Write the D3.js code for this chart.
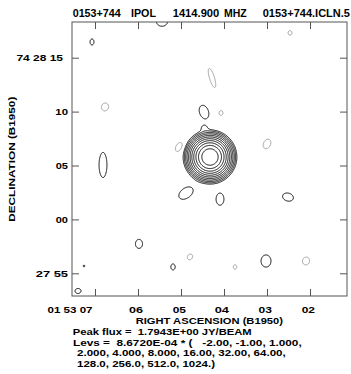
<!DOCTYPE html>
<html>
<head>
<meta charset="utf-8">
<script src="https://cdn.jsdelivr.net/npm/d3@7"></script>
<style>
  body { margin: 0; background: #fff; }
  text { font-family: "Liberation Sans", Arial, sans-serif; font-weight: bold; fill: #000; white-space: pre; }
</style>
</head>
<body>
<div id="chart"></div>
<script>
// header / axis texts
const titleParts = ['0153+744', 'IPOL', '1414.900', 'MHZ', '0153+744.ICLN.5']
const raTicks = [7, 6, 5, 4, 3, 2]                 // RA seconds of 01h53m
const raTickLabels = ['01 53 07', '06', '05', '04', '03', '02']
const decTicks = [75, 70, 65, 60, 55]              // Dec arcsec past 74d27m
const decTickLabels = ['74 28 15', '10', '05', '00', '27 55']
const peakFlux = 1.7943
const baseLevel = 8.6720e-4
const levs = [-2, -1, 1, 2, 4, 8, 16, 32, 64, 128, 256, 512, 1024]
const footLines = [
  'Peak flux =  1.7943E+00 JY/BEAM',
  'Levs =  8.6720E-04 * (   -2.00, -1.00, 1.000,',
  '2.000, 4.000, 8.000, 16.00, 32.00, 64.00,',
  '128.0, 256.0, 512.0, 1024.)'
]

// brightness components (amp in units of the base level, sigmas in arcsec, pa in deg)
const compRa  = [4.326, 4.465, 6.767, 4.465, 4.070, 5.047, 3.000, 6.814, 4.884, 4.093, 2.512, 5.977, 4.791, 5.186, 3.744, 3.023, 2.093, 7.395, 7.256, 7.070, 2.465, 4.279, 5.442]
const compDec = [65.79, 68.52, 70.43, 69.96, 69.87, 66.72, 67.00, 65.05, 62.44, 61.88, 62.07, 57.73, 56.52, 55.59, 55.59, 56.14, 56.14, 53.36, 55.68, 76.46, 77.30, 73.12, 78.40]
const compAmp = [peakFlux / baseLevel, 1.1, -1.6, 1.9, -1.6, -1.6, -1.6, 1.6, 1.6, 1.6, 1.6, 1.6, -1.6, 1.6, -1.6, 1.6, -1.6, 1.6, 1.6, 1.6, -1.6, -1.6, 1.6]
const compSx  = [0.642, 0.35, 0.34, 0.37, 0.19, 0.29, 0.34, 0.38, 0.77, 0.38, 0.53, 0.34, 0.24, 0.21, 0.17, 0.48, 0.34, 0.29, 0.08, 0.19, 0.19, 0.24, 0.55]
const compSy  = [0.642, 0.30, 0.38, 0.57, 0.22, 0.48, 0.48, 1.20, 0.48, 0.58, 0.38, 0.43, 0.29, 0.29, 0.22, 0.58, 0.38, 0.24, 0.08, 0.29, 0.22, 0.96, 0.50]
const compPa  = [0, 0, 20, -20, 0, 30, 25, 0, -35, 0, 15, 0, 30, 0, 0, 0, 20, 0, 0, 0, 0, -17, 0]

const width = 351, height = 374
const margin = {left: 72, top: 22}
const W = 275, H = 274
const frameColor = '#555'
const font = '"Liberation Sans", Arial, sans-serif'

const x = d3.scaleLinear().domain([7, 2]).range([23, 238])
const y = d3.scaleLinear().domain([75, 55]).range([35.7, 251.3])

const svg = d3.select('#chart').append('svg')
  .attr('width', width)
  .attr('height', height)

// title (the original lettering is wider than Arial, so stretch to the measured lengths)
const titleX = [72.7, 131, 172.7, 224, 262.7]
const titleLen = [48, 25, 46.6, 22.7, 87.3]
svg.selectAll('text.title').data(titleParts).join('text')
  .attr('class', 'title')
  .attr('x', (d, i) => titleX[i])
  .attr('y', 16.7)
  .attr('textLength', (d, i) => titleLen[i])
  .attr('lengthAdjust', 'spacingAndGlyphs')
  .style('font-size', '10px')
  .text(d => d)

const g = svg.append('g').attr('transform', `translate(${margin.left},${margin.top})`)

// sample the brightness on a grid a bit larger than the frame
const pad = 12, n = W + 2 * pad, m = H + 2 * pad
const cosDec = Math.cos((74 + 27.5 / 60) * Math.PI / 180)
const values = new Float64Array(n * m)
for (let j = 0; j < m; j++) {
  const dec = y.invert(j + 0.5 - pad)
  for (let i = 0; i < n; i++) {
    const ra = x.invert(i + 0.5 - pad)
    let v = 0
    for (let k = 0; k < compRa.length; k++) {
      const dx = -(ra - compRa[k]) * 15 * cosDec
      const dy = -(dec - compDec[k])
      const t = compPa[k] * Math.PI / 180
      const u = dx * Math.cos(t) + dy * Math.sin(t)
      const w = -dx * Math.sin(t) + dy * Math.cos(t)
      v += compAmp[k] * Math.exp(-0.5 * (u * u / (compSx[k] * compSx[k]) + w * w / (compSy[k] * compSy[k])))
    }
    values[j * n + i] = v
  }
}

const posLevels = levs.filter(l => l > 0)
const negLevels = levs.filter(l => l < 0).map(l => -l)
const posContours = d3.contours().size([n, m]).thresholds(posLevels)(values)
const negContours = d3.contours().size([n, m]).thresholds(negLevels)(values.map(v => -v))

svg.append('clipPath').attr('id', 'frame')
  .append('rect').attr('width', W).attr('height', H)

const path = d3.geoPath()
const plot = g.append('g').attr('clip-path', 'url(#frame)')
  .append('g').attr('transform', `translate(${-pad},${-pad})`)

plot.selectAll('path.neg').data(negContours).join('path')
  .attr('class', 'neg')
  .attr('d', path)
  .attr('fill', 'none')
  .attr('stroke', '#999')
  .attr('stroke-width', 0.9)

plot.selectAll('path.pos').data(posContours).join('path')
  .attr('class', 'pos')
  .attr('d', path)
  .attr('fill', 'none')
  .attr('stroke', '#111')
  .attr('stroke-width', 1)

// frame
g.append('rect')
  .attr('width', W).attr('height', H)
  .attr('fill', 'none')
  .attr('stroke', frameColor)

// axes, ticks pointing inward
const raLabelLen = [45, 14, 13.3, 14.3, 13.4, 13.3]
const decLabelLen = [46.6, 12.7, 12.3, 12.3, 32.3]

const axBottom = g.append('g').attr('transform', `translate(0,${H})`)
  .call(d3.axisBottom(x).tickValues(raTicks).tickSize(-7).tickPadding(10.5)
    .tickFormat((d, i) => raTickLabels[i]))
g.append('g')
  .call(d3.axisTop(x).tickValues(raTicks).tickSize(-7).tickFormat(''))
const axLeft = g.append('g')
  .call(d3.axisLeft(y).tickValues(decTicks).tickSize(-7).tickPadding(4)
    .tickFormat((d, i) => decTickLabels[i]))
g.append('g').attr('transform', `translate(${W},0)`)
  .call(d3.axisRight(y).tickValues(decTicks).tickSize(-7).tickFormat(''))

g.selectAll('.domain').remove()
g.selectAll('.tick line').attr('stroke', frameColor)
g.selectAll('.tick text')
  .attr('fill', '#000')
  .attr('lengthAdjust', 'spacingAndGlyphs')
  .style('font-family', font)
  .style('font-weight', 'bold')
  .style('font-size', '9.5px')
axBottom.selectAll('.tick text')
  .attr('text-anchor', 'end')
  .attr('dx', (d, i) => i === 0 ? -3 : 4.5)
  .attr('textLength', (d, i) => raLabelLen[i])
axLeft.selectAll('.tick text')
  .attr('dx', (d, i) => i === 0 ? -5 : 0)
  .attr('textLength', (d, i) => decLabelLen[i])

// axis titles
svg.append('text')
  .attr('x', 135.7).attr('y', 324)
  .attr('textLength', 147.3)
  .attr('lengthAdjust', 'spacingAndGlyphs')
  .style('font-size', '9.5px')
  .text('RIGHT ASCENSION (B1950)')

svg.append('text')
  .attr('transform', 'translate(14.5,221.7) rotate(-90)')
  .attr('textLength', 125)
  .attr('lengthAdjust', 'spacingAndGlyphs')
  .style('font-size', '9.5px')
  .text('DECLINATION (B1950)')

// footer
const footX = [72.7, 73, 77, 77]
const footY = [335, 346, 356, 366.7]
const footLen = [179, 228.7, 208.7, 138]
svg.selectAll('text.foot').data(footLines).join('text')
  .attr('class', 'foot')
  .attr('x', (d, i) => footX[i])
  .attr('y', (d, i) => footY[i])
  .attr('textLength', (d, i) => footLen[i])
  .attr('lengthAdjust', 'spacingAndGlyphs')
  .style('font-size', '9px')
  .text(d => d)
</script>
</body>
</html>
